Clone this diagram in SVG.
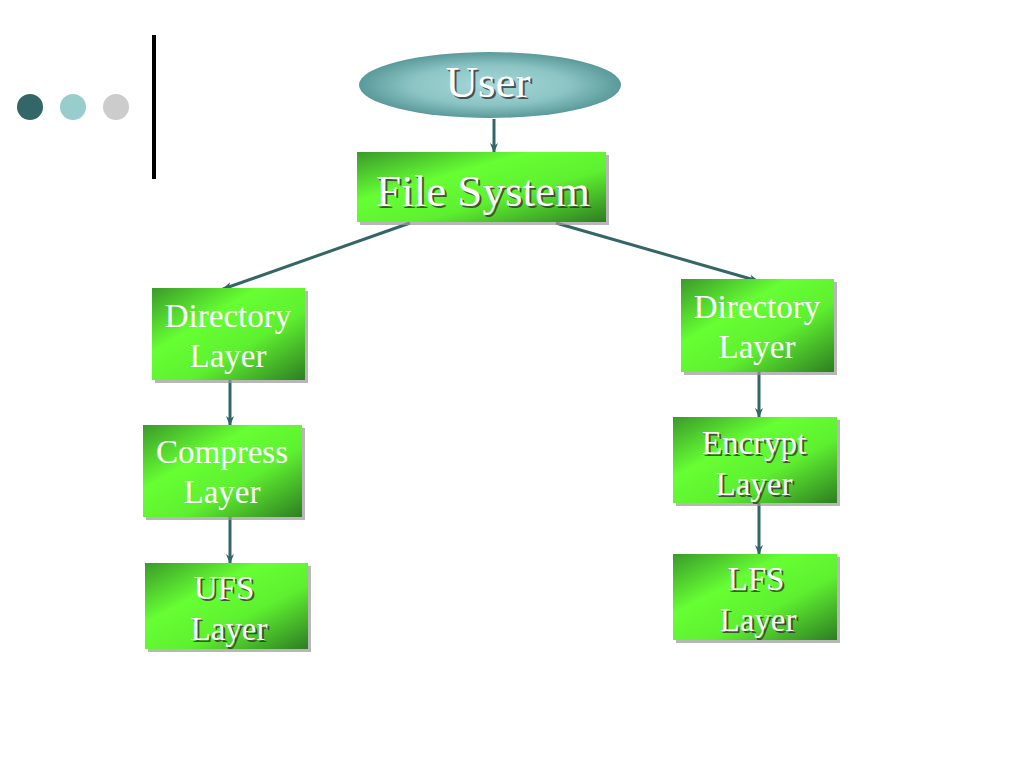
<svg xmlns="http://www.w3.org/2000/svg" width="1024" height="768" viewBox="0 0 1024 768">
<defs>
<linearGradient id="g" x1="0" y1="0" x2="1" y2="1">
<stop offset="0" stop-color="#3a9a2a"/>
<stop offset="0.35" stop-color="#66ff33"/>
<stop offset="0.62" stop-color="#5ef030"/>
<stop offset="1" stop-color="#2e7d22"/>
</linearGradient>
<radialGradient id="ue" cx="0.5" cy="0.5" r="0.5">
<stop offset="0" stop-color="#a6d8d8"/>
<stop offset="0.6" stop-color="#8cc4c4"/>
<stop offset="1" stop-color="#5a9a9a"/>
</radialGradient>
<marker id="ah" markerWidth="10" markerHeight="8" refX="9" refY="4" orient="auto" markerUnits="userSpaceOnUse">
<path d="M0,0 L10,4 L0,8 L3,4 Z" fill="#336666"/>
</marker>
</defs>
<style>
.box{fill:url(#g);}
.sh{fill:#999;opacity:0.7;}
.t{font-family:"Liberation Serif","Times New Roman",serif;fill:#fff;text-anchor:middle;}
.ts{font-family:"Liberation Serif","Times New Roman",serif;fill:#333;text-anchor:middle;opacity:0.8;}
.c{stroke:#336666;stroke-width:3;fill:none;marker-end:url(#ah);}
</style>
<rect width="1024" height="768" fill="#fff"/>
<g id="decor">
<circle cx="30" cy="107" r="13" fill="#336666"/>
<circle cx="73" cy="107" r="13" fill="#99cccc"/>
<circle cx="116" cy="107" r="13" fill="#cccccc"/>
<line x1="154" y1="35" x2="154" y2="179" stroke="#000" stroke-width="4"/>
</g>
<g id="connectors">
<line class="c" x1="494" y1="119" x2="494" y2="152"/>
<line class="c" x1="410" y1="223" x2="223" y2="289"/>
<line class="c" x1="556" y1="223" x2="758" y2="281"/>
<line class="c" x1="230" y1="380" x2="230" y2="425"/>
<line class="c" x1="230" y1="517" x2="230" y2="563"/>
<line class="c" x1="759" y1="372" x2="759" y2="417"/>
<line class="c" x1="759" y1="503" x2="759" y2="554"/>
</g>
<g id="user">
<ellipse cx="490" cy="85" rx="131" ry="33" fill="url(#ue)"/>
<text class="ts" x="490" y="99" font-size="45">User</text>
<text class="t" x="488" y="97" font-size="45">User</text>
</g>
<g id="filesystem">
<rect class="sh" x="360" y="155" width="249" height="70"/>
<rect class="box" x="357" y="152" width="249" height="70"/>
<text class="ts" x="485" y="208" font-size="45">File System</text>
<text class="t" x="483" y="206" font-size="45">File System</text>
</g>
<g id="dirleft">
<rect class="sh" x="155" y="291" width="153" height="92"/>
<rect class="box" x="152" y="288" width="153" height="92"/>
<text class="t" x="228" y="327" font-size="33">Directory</text>
<text class="t" x="228" y="367" font-size="33">Layer</text>
</g>
<g id="compress">
<rect class="sh" x="146" y="428" width="159" height="92"/>
<rect class="box" x="143" y="425" width="159" height="92"/>
<text class="t" x="222" y="463" font-size="33">Compress</text>
<text class="t" x="222" y="503" font-size="33">Layer</text>
</g>
<g id="ufs">
<rect class="sh" x="148" y="566" width="163" height="86"/>
<rect class="box" x="145" y="563" width="163" height="86"/>
<text class="ts" x="226" y="601" font-size="33">UFS</text>
<text class="t" x="224" y="599" font-size="33">UFS</text>
<text class="ts" x="231" y="642" font-size="33">Layer</text>
<text class="t" x="229" y="640" font-size="33">Layer</text>
</g>
<g id="dirright">
<rect class="sh" x="684" y="282" width="153" height="93"/>
<rect class="box" x="681" y="279" width="153" height="93"/>
<text class="t" x="757" y="318" font-size="33">Directory</text>
<text class="t" x="757" y="358" font-size="33">Layer</text>
</g>
<g id="encrypt">
<rect class="sh" x="676" y="420" width="164" height="86"/>
<rect class="box" x="673" y="417" width="164" height="86"/>
<text class="ts" x="756" y="456" font-size="33">Encrypt</text>
<text class="t" x="754" y="454" font-size="33">Encrypt</text>
<text class="ts" x="756" y="497" font-size="33">Layer</text>
<text class="t" x="754" y="495" font-size="33">Layer</text>
</g>
<g id="lfs">
<rect class="sh" x="676" y="557" width="164" height="86"/>
<rect class="box" x="673" y="554" width="164" height="86"/>
<text class="ts" x="758" y="592" font-size="33">LFS</text>
<text class="t" x="756" y="590" font-size="33">LFS</text>
<text class="ts" x="760" y="633" font-size="33">Layer</text>
<text class="t" x="758" y="631" font-size="33">Layer</text>
</g>
</svg>
